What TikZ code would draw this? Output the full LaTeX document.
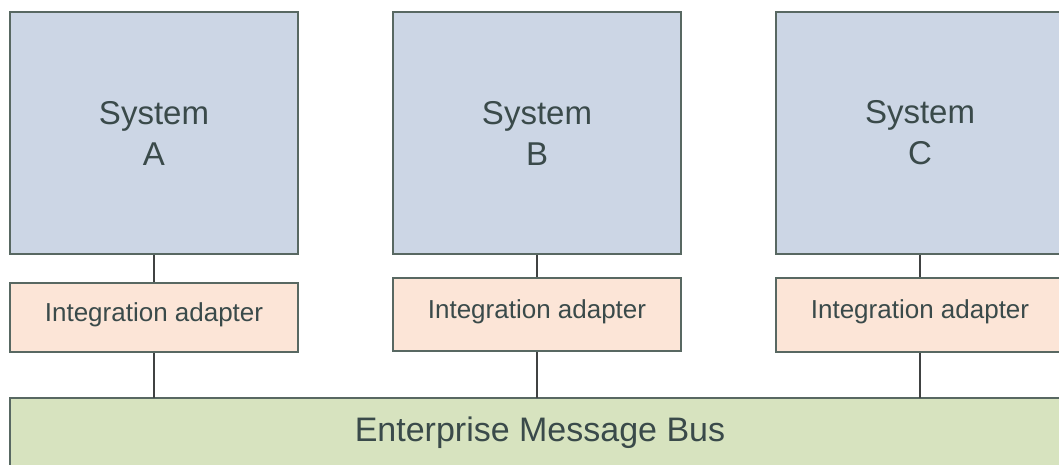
\documentclass[tikz,border=0pt]{standalone}
\usepackage{fontspec}
\setmainfont{Liberation Sans}
\definecolor{sysfill}{RGB}{204,214,229}
\definecolor{adfill}{RGB}{252,229,215}
\definecolor{busfill}{RGB}{215,227,191}
\definecolor{edge}{RGB}{88,104,98}
\definecolor{txt}{RGB}{58,74,74}
\definecolor{wire}{RGB}{64,66,66}
\begin{document}
\begin{tikzpicture}[x=1pt,y=-1pt,
  box/.style={draw=edge,line width=2.6pt,rectangle,inner sep=0pt,text=txt,align=center},
  sysbox/.style={box,fill=sysfill,minimum width=288pt,minimum height=242pt,
     font=\fontsize{33}{41}\selectfont},
  adbox/.style={box,fill=adfill,minimum width=288pt,
     font=\fontsize{26}{32}\selectfont,text height=0.72em,text depth=0pt},
  busbox/.style={box,fill=busfill,minimum width=1060pt,minimum height=80pt,
     font=\fontsize{34}{40}\selectfont,text height=0.72em,text depth=0pt},
  wireline/.style={draw=wire,line width=2.8pt}]
\useasboundingbox (0,0) rectangle (1059,464);
\fill[white] (0,0) rectangle (1059,464);
\node[sysbox] (sa) at (154,133) {System\\A};
\node[sysbox] (sb) at (537,133) {System\\B};
\node[sysbox] (sc) at (920,133) {System\\C};
\node[adbox,minimum height=69pt] (aa) at (154,317.5) {Integration adapter};
\node[adbox,minimum height=73pt] (ab) at (537,314.5) {Integration adapter};
\node[adbox,minimum height=74pt] (ac) at (920,315) {Integration adapter};
\node[busbox] (bus) at (540,438) {Enterprise Message Bus};
\coordinate (ba) at (154,398);
\coordinate (bb) at (537,398);
\coordinate (bc) at (920,398);
\draw[wireline] (sa.south) -- (aa.north);
\draw[wireline] (sb.south) -- (ab.north);
\draw[wireline] (sc.south) -- (ac.north);
\draw[wireline] (aa.south) -- (ba);
\draw[wireline] (ab.south) -- (bb);
\draw[wireline] (ac.south) -- (bc);
\end{tikzpicture}
\end{document}
